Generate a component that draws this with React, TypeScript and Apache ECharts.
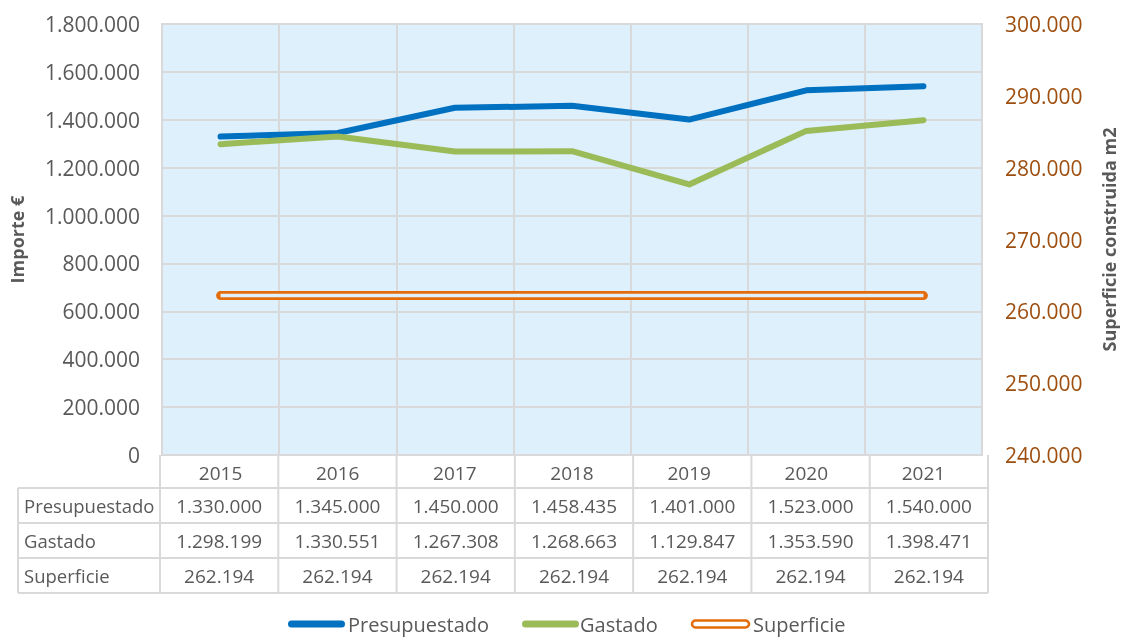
import React, { useEffect, useRef } from "react";
import * as echarts from "echarts";

const years = ["2015", "2016", "2017", "2018", "2019", "2020", "2021"];
const presupuestado = [1330000, 1345000, 1450000, 1458435, 1401000, 1523000, 1540000];
const gastado = [1298199, 1330551, 1267308, 1268663, 1129847, 1353590, 1398471];
const superficie = [262194, 262194, 262194, 262194, 262194, 262194, 262194];
const seriesNames = ["Presupuestado", "Gastado", "Superficie"];

const fmt = (n: number) => String(n).replace(/\B(?=(\d{3})+(?!\d))/g, ".");

const FONT = "'Open Sans', sans-serif";
const GRAY = "#595959";
const BORDER = "#D9D9D9";
const BG = "#DDF0FC";
const BLUE = "#0070C0";
const GREEN = "#9BBB59";
const ORANGE = "#E46C0A";
const BROWN = "#9E4F10";

const G_LEFT = 160;
const G_TOP = 24;
const G_W = 828;
const G_H = 431;

export default function App() {
  const ref = useRef<HTMLDivElement>(null);
  useEffect(() => {
    if (!ref.current) return;
    const chart = echarts.init(ref.current, undefined, { renderer: "svg" });
    const catW = G_W / years.length;
    const bottom = G_TOP + G_H;
    const rowTops = [488, 523, 558];
    const rowH = 35;
    const tableBottom = rowTops[2] + rowH;
    const rows = [presupuestado, gastado, superficie];
    const gfx: any[] = [];
    [488, 523, 558, 593].forEach((y) => {
      gfx.push({ type: "line", shape: { x1: 18, y1: y, x2: G_LEFT + G_W, y2: y }, style: { stroke: BORDER, lineWidth: 2 }, z: 10 });
    });
    gfx.push({ type: "line", shape: { x1: 18, y1: 488, x2: 18, y2: tableBottom }, style: { stroke: BORDER, lineWidth: 2 }, z: 10 });
    for (let i = 0; i <= years.length; i++) {
      const x = G_LEFT + i * catW;
      gfx.push({ type: "line", shape: { x1: x, y1: bottom, x2: x, y2: tableBottom }, style: { stroke: BORDER, lineWidth: 2 }, z: 10 });
    }
    rows.forEach((vals, r) => {
      const cy = rowTops[r] + rowH / 2;
      gfx.push({ type: "text", x: 24, y: cy, style: { text: seriesNames[r], font: `18.5px ${FONT}`, fill: GRAY, textAlign: "left", textVerticalAlign: "middle" }, z: 11 });
      vals.forEach((v, i) => {
        gfx.push({ type: "text", x: G_LEFT + (i + 0.5) * catW, y: cy, style: { text: fmt(v), font: `19px ${FONT}`, fill: GRAY, textAlign: "center", textVerticalAlign: "middle" }, z: 11 });
      });
    });
    const ly = 624;
    const legendItems = [
      { x: 288, color: BLUE, hollow: false, tx: 348 },
      { x: 522, color: GREEN, hollow: false, tx: 580 },
      { x: 692, color: ORANGE, hollow: true, tx: 753 },
    ];
    legendItems.forEach((it, k) => {
      gfx.push({
        type: "rect",
        shape: { x: it.x, y: ly - 3.5, width: 57, height: 7, r: 3.5 },
        style: it.hollow ? { fill: "#ffffff", stroke: it.color, lineWidth: 2.5 } : { fill: it.color },
        z: 11,
      });
      gfx.push({ type: "text", x: it.tx, y: ly, style: { text: seriesNames[k], font: `20px ${FONT}`, fill: GRAY, textAlign: "left", textVerticalAlign: "middle" }, z: 11 });
    });

    const lineCommon = { symbol: "none", animation: false };
    chart.setOption({
      animation: false,
      grid: { left: G_LEFT, top: G_TOP, width: G_W, height: G_H, show: true, backgroundColor: BG, borderColor: BORDER, borderWidth: 2 },
      xAxis: {
        type: "category",
        data: years,
        boundaryGap: true,
        axisLine: { show: false },
        axisTick: { show: false },
        axisLabel: { color: GRAY, fontSize: 19, fontFamily: FONT, margin: 8 },
        splitLine: { show: true, interval: 0, lineStyle: { color: BORDER, width: 2 } },
      },
      yAxis: [
        {
          type: "value",
          min: 0,
          max: 1800000,
          interval: 200000,
          name: "Importe €",
          nameLocation: "middle",
          nameRotate: 90,
          nameGap: 136,
          nameTextStyle: { color: GRAY, fontSize: 18, fontWeight: "bold", fontFamily: FONT },
          axisLine: { show: false },
          axisTick: { show: false },
          axisLabel: { color: GRAY, fontSize: 21, fontFamily: FONT, margin: 22, formatter: (v: number) => fmt(v) },
          splitLine: { lineStyle: { color: BORDER, width: 2 } },
        },
        {
          type: "value",
          position: "right",
          min: 240000,
          max: 300000,
          interval: 10000,
          name: "Superficie construida m2",
          nameLocation: "middle",
          nameRotate: 90,
          nameGap: 118,
          nameTextStyle: { color: GRAY, fontSize: 18, fontWeight: "bold", fontFamily: FONT },
          axisLine: { show: false },
          axisTick: { show: false },
          axisLabel: { color: BROWN, fontSize: 21, fontFamily: FONT, margin: 23, formatter: (v: number) => fmt(v) },
          splitLine: { show: false },
        },
      ],
      series: [
        { ...lineCommon, name: seriesNames[0], type: "line", data: presupuestado, lineStyle: { color: BLUE, width: 6, cap: "round", join: "round" }, itemStyle: { color: BLUE }, z: 3 },
        { ...lineCommon, name: seriesNames[1], type: "line", data: gastado, lineStyle: { color: GREEN, width: 6, cap: "round", join: "round" }, itemStyle: { color: GREEN }, z: 4 },
        { ...lineCommon, name: seriesNames[2], type: "line", yAxisIndex: 1, data: superficie, lineStyle: { color: ORANGE, width: 9, cap: "round", join: "round" }, itemStyle: { color: ORANGE }, z: 5 },
        { ...lineCommon, name: seriesNames[2] + "_inner", type: "line", yAxisIndex: 1, data: superficie, lineStyle: { color: BG, width: 3.5, cap: "butt", join: "round" }, itemStyle: { color: BG }, z: 6, silent: true },
      ],
      graphic: gfx,
    });
    return () => chart.dispose();
  }, []);
  return <div ref={ref} style={{ position: "fixed", left: 0, top: 0, width: 1126, height: 640 }} />;
}
